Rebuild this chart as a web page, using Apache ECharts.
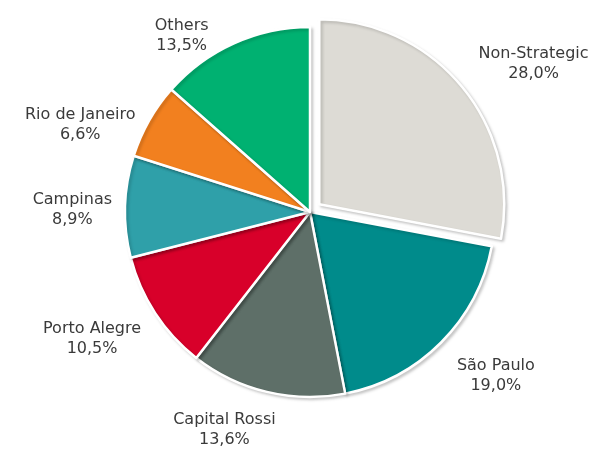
<!DOCTYPE html>
<html>
<head>
<meta charset="utf-8">
<script src="https://cdn.jsdelivr.net/npm/echarts@6/dist/echarts.min.js"></script>
<style>
html,body{margin:0;padding:0;background:#fff;}
#chart{width:596px;height:454px;}
</style>
</head>
<body>
<div id="chart"></div>
<script>
const categories = ['Non-Strategic', 'São Paulo', 'Capital Rossi', 'Porto Alegre', 'Campinas', 'Rio de Janeiro', 'Others'];
const values = [28.0, 19.0, 13.6, 10.5, 8.9, 6.6, 13.5];
const colors = ['#dddbd5', '#008b8b', '#5e6f68', '#d8002a', '#2fa0a9', '#f2801f', '#00b171'];
// small label nudges (px) to match the reference's label placement
const labelNudge = [[-2, -11], [-2, 21], [18, 20], [6, 16], [10, 4], [7, 13], [-13, 9]];

function fmt(v) { return v.toFixed(1).replace('.', ',') + '%'; }

const data = categories.map((c, i) => ({
  name: c,
  value: values[i],
  selected: i === 0,
  itemStyle: { color: colors[i] }
}));

const chart = echarts.init(document.getElementById('chart'));
chart.setOption({
  animation: false,
  series: [{
    type: 'pie',
    center: [310, 212],
    radius: [0, 185],
    startAngle: 90,
    clockwise: true,
    selectedMode: 'single',
    selectedOffset: 12,
    avoidLabelOverlap: false,
    data: data,
    itemStyle: {
      borderColor: '#ffffff',
      borderWidth: 2.5,
      shadowBlur: 3,
      shadowOffsetX: 2,
      shadowOffsetY: 2,
      shadowColor: 'rgba(0,0,0,0.18)'
    },
    emphasis: { disabled: true },
    label: {
      show: true,
      position: 'outside',
      formatter: p => '{a|' + p.name + '}\n{a|' + fmt(p.value) + '}',
      rich: {
        a: {
          align: 'center',
          fontFamily: 'DejaVu Sans',
          fontSize: 16,
          lineHeight: 20,
          color: '#3a3a3a'
        }
      }
    },
    labelLine: { show: false, length: 18, length2: 0 },
    labelLayout: p => ({ dx: labelNudge[p.dataIndex][0], dy: labelNudge[p.dataIndex][1] })
  }]
});
</script>
</body>
</html>
